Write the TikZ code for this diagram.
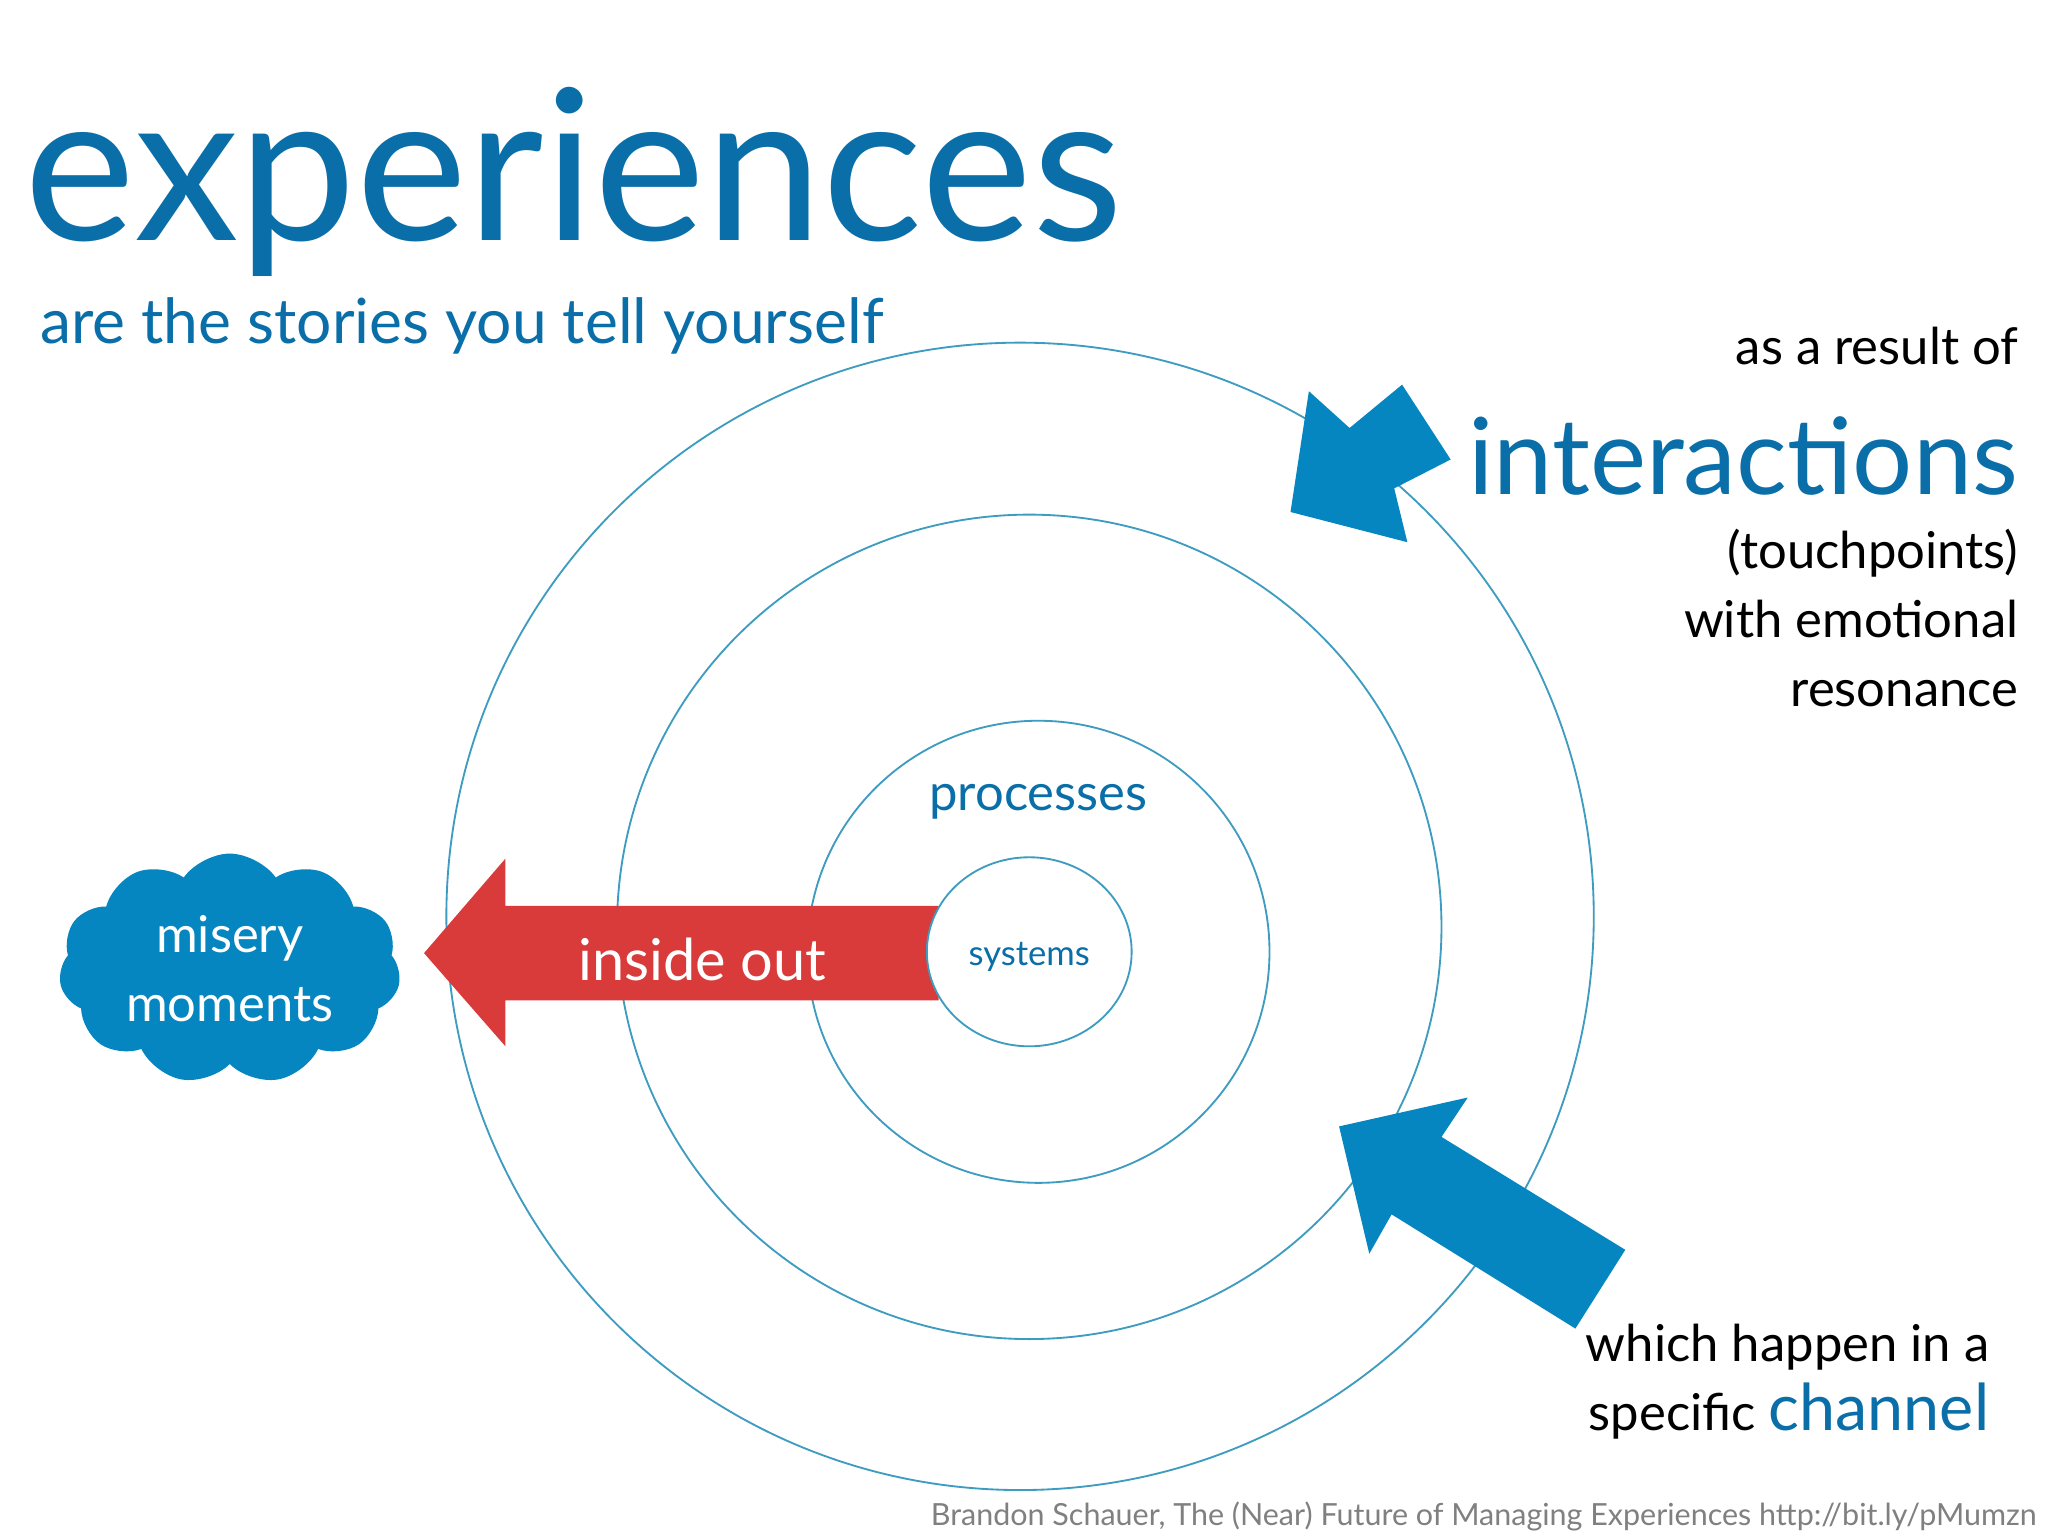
\documentclass[tikz,border=0pt]{standalone}
\usepackage{fontspec}
\setmainfont{Lato}
\usetikzlibrary{shapes.symbols,positioning}
\definecolor{titleblue}{HTML}{0A6EA8}
\definecolor{arrowblue}{HTML}{0586C0}
\definecolor{ringblue}{HTML}{3E9CC0}
\definecolor{outred}{HTML}{D93A3A}
\begin{document}
\begin{tikzpicture}[x=0.01cm,y=-0.01cm,
  ring/.style = {draw = ringblue, line width = 0.4pt},
  bluetext/.style = {text = titleblue, inner sep = 0pt},
  blacktext/.style = {text = black, inner sep = 0pt, font = \fontsize{11}{15}\selectfont, align = right}]
\useasboundingbox (0,0) rectangle (1560,1170);
\fill[white] (0,0) rectangle (1560,1170);
\draw[ring] (777,698) circle (437);
\draw[ring] (784,706) circle (314);
\draw[ring] (791,725) circle (176);
% red arrow
\fill[outred] (715,690) -- (385,690) -- (385,654) -- (323,726) -- (385,797) -- (385,762) -- (715,762) -- cycle;
\draw[ring, fill = white] (784,725) ellipse [x radius = 78, y radius = 72];
% blue arrows
\fill[arrowblue] (983,390) -- (997,298) -- (1028,326) -- (1068,293) -- (1105,350) -- (1062,372) -- (1072,413) -- cycle;
\fill[arrowblue] (1020,858) -- (1118,836) -- (1098,866) -- (1238,952) -- (1200,1012) -- (1060,925) -- (1043,955) -- cycle;
\node[cloud, cloud puffs = 11, cloud puff arc = 110, aspect = 1.5, fill = arrowblue, minimum width = 2.6cm, minimum height = 1.6cm, inner sep = 0pt, align = center, text = white, font = \fontsize{11}{15}\selectfont] (misery) at (175,738) {misery\\moments};
\node[text = white, font = \fontsize{12.5}{15}\selectfont] (inside) at (535,731) {inside out};
\node[bluetext, font = \fontsize{7.5}{9}\selectfont] (systems) at (784,729) {systems};
\node[bluetext, font = \fontsize{11}{13}\selectfont] (processes) at (791,611) {processes};
\node[bluetext, anchor = base west, font = \fontsize{45.5}{50}\selectfont] (title) at (18,183) {experiences};
\node[bluetext, anchor = base west, font = \fontsize{13.5}{16}\selectfont] (stories) at (30,262) {are the stories you tell yourself};
\node[blacktext, anchor = base east] (result) at (1538,278) {as a result of};
\node[bluetext, anchor = base east, font = \fontsize{23}{26}\selectfont] (interactions) at (1538,377) {interactions};
\node[blacktext, anchor = north east] (touch) at (1538,402) {(touchpoints)\\with emotional\\resonance};
\node[blacktext, anchor = north east] (channel) at (1516,1008) {which happen in a\\specific \textcolor{titleblue}{\fontsize{14}{15}\selectfont channel}};
\node[text = gray, anchor = base east, inner sep = 0pt, font = \fontsize{6.6}{8}\selectfont] (credit) at (1552,1162) {Brandon Schauer, The (Near) Future of Managing Experiences http://bit.ly/pMumzn};
\end{tikzpicture}
\end{document}
